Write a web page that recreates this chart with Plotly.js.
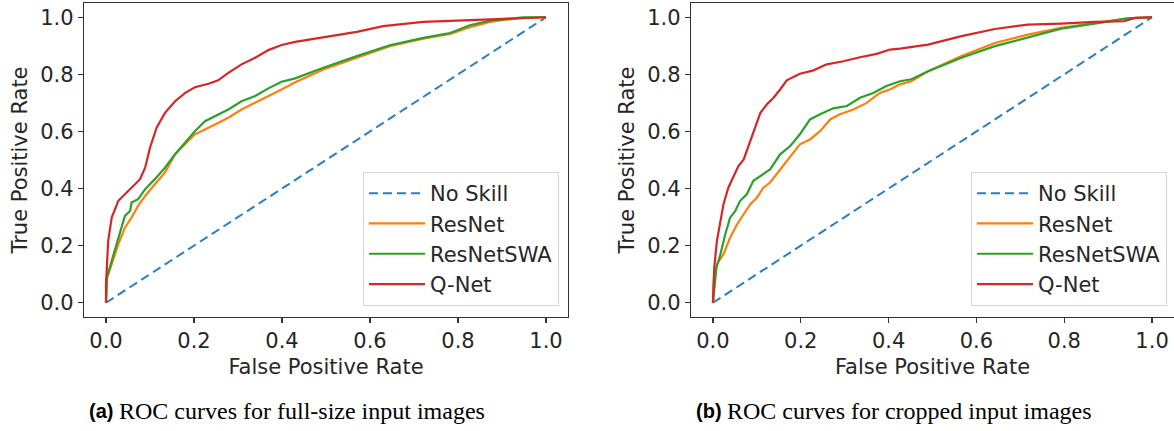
<!DOCTYPE html>
<html>
<head>
<meta charset="utf-8">
<script src="https://cdn.plot.ly/plotly-3.0.1.min.js"></script>
<style>html,body{margin:0;padding:0;background:#fff;}#chart{width:1174px;height:431px;}</style>
</head>
<body>
<div id="chart"></div>
<script>
// ---- Data ----
const noSkillX = [0, 1];
const noSkillY = [0, 1];

// (a) full-size input images
const fprA_ResNet = [0,0.002,0.013,0.028,0.043,0.058,0.073,0.089,0.111,0.134,0.157,0.18,0.202,0.225,0.248,0.278,0.308,0.339,0.369,0.399,0.43,0.494,0.57,0.645,0.721,0.782,0.827,0.873,0.933,1];
const tprA_ResNet = [0,0.085,0.135,0.205,0.263,0.298,0.339,0.374,0.415,0.456,0.52,0.555,0.59,0.607,0.625,0.648,0.677,0.7,0.724,0.747,0.772,0.817,0.858,0.899,0.925,0.942,0.965,0.984,0.996,1];
const fprA_SWA = [0,0.002,0.013,0.024,0.035,0.043,0.055,0.058,0.073,0.089,0.111,0.134,0.157,0.18,0.202,0.225,0.248,0.278,0.308,0.339,0.369,0.399,0.43,0.494,0.57,0.645,0.721,0.782,0.827,0.873,0.948,1];
const tprA_SWA = [0,0.089,0.147,0.205,0.263,0.304,0.322,0.351,0.363,0.398,0.433,0.473,0.52,0.561,0.601,0.636,0.654,0.677,0.706,0.724,0.751,0.774,0.786,0.823,0.864,0.902,0.928,0.945,0.972,0.988,1,1];
const fprA_QNet = [0,0,0.005,0.013,0.028,0.051,0.077,0.089,0.1,0.115,0.134,0.157,0.18,0.202,0.233,0.255,0.278,0.308,0.339,0.369,0.399,0.43,0.494,0.57,0.63,0.721,0.797,0.873,1];
const tprA_QNet = [0,0.066,0.217,0.298,0.357,0.392,0.432,0.473,0.543,0.613,0.665,0.706,0.735,0.755,0.767,0.779,0.805,0.835,0.858,0.885,0.903,0.914,0.93,0.949,0.969,0.984,0.988,0.992,1];

// (b) cropped input images
const fprB_ResNet = [0,0.002,0.009,0.024,0.039,0.055,0.07,0.085,0.1,0.115,0.13,0.153,0.176,0.198,0.221,0.244,0.267,0.289,0.32,0.35,0.38,0.403,0.426,0.452,0.49,0.566,0.642,0.717,0.793,0.869,0.945,1];
const tprB_ResNet = [0,0.085,0.135,0.17,0.228,0.275,0.31,0.345,0.368,0.403,0.421,0.467,0.514,0.555,0.572,0.601,0.642,0.66,0.677,0.7,0.735,0.747,0.765,0.776,0.811,0.864,0.91,0.939,0.963,0.98,0.996,1];
const fprB_SWA = [0,0.008,0.017,0.028,0.039,0.051,0.062,0.077,0.092,0.108,0.13,0.153,0.176,0.198,0.221,0.244,0.274,0.305,0.335,0.365,0.395,0.426,0.452,0.49,0.566,0.642,0.717,0.793,0.869,0.945,1];
const tprB_SWA = [0,0.123,0.17,0.24,0.298,0.322,0.357,0.38,0.427,0.444,0.467,0.52,0.549,0.59,0.642,0.66,0.681,0.689,0.718,0.735,0.759,0.776,0.783,0.811,0.858,0.899,0.928,0.96,0.978,0.996,1];
const fprB_QNet = [0,0.003,0.009,0.017,0.024,0.035,0.047,0.058,0.07,0.081,0.092,0.108,0.123,0.138,0.153,0.168,0.198,0.229,0.259,0.297,0.335,0.373,0.403,0.426,0.49,0.566,0.642,0.717,0.793,0.869,0.937,0.96,1];
const tprB_QNet = [0,0.123,0.217,0.287,0.345,0.403,0.444,0.479,0.502,0.549,0.601,0.665,0.695,0.718,0.747,0.779,0.802,0.814,0.835,0.846,0.86,0.872,0.887,0.89,0.904,0.934,0.959,0.974,0.978,0.984,0.986,0.998,1];

const tickVals = [0, 0.2, 0.4, 0.6, 0.8, 1.0];
const tickText = ['0.0', '0.2', '0.4', '0.6', '0.8', '1.0'];
const seriesNames = ['No Skill', 'ResNet', 'ResNetSWA', 'Q-Net'];
const captions = [['(a)', 'ROC curves for full-size input images'], ['(b)', 'ROC curves for cropped input images']];

// ---- Styling ----
const colors = {noSkill: '#2a7fc0', resnet: '#ff7f0e', swa: '#2ca02c', qnet: '#d62728'};
const W = 1174, H = 431;
const FONT = 'DejaVu Sans';
const txtColor = '#262626';

function mkTraces(xa, ya, leg, sets) {
  const out = [];
  out.push({x: noSkillX, y: noSkillY, xaxis: xa, yaxis: ya, legend: leg, mode: 'lines', name: seriesNames[0],
    line: {color: colors.noSkill, width: 2, dash: '9px,5px'}});
  out.push({x: sets[0][0], y: sets[0][1], xaxis: xa, yaxis: ya, legend: leg, mode: 'lines', name: seriesNames[1],
    line: {color: colors.resnet, width: 2.2}});
  out.push({x: sets[1][0], y: sets[1][1], xaxis: xa, yaxis: ya, legend: leg, mode: 'lines', name: seriesNames[2],
    line: {color: colors.swa, width: 2.2}});
  out.push({x: sets[2][0], y: sets[2][1], xaxis: xa, yaxis: ya, legend: leg, mode: 'lines', name: seriesNames[3],
    line: {color: colors.qnet, width: 2.2}});
  return out;
}

const traces = [].concat(
  mkTraces('x', 'y', 'legend', [[fprA_ResNet, tprA_ResNet], [fprA_SWA, tprA_SWA], [fprA_QNet, tprA_QNet]]),
  mkTraces('x2', 'y2', 'legend2', [[fprB_ResNet, tprB_ResNet], [fprB_SWA, tprB_SWA], [fprB_QNet, tprB_QNet]])
);

function xAxis(d0, d1, anchor) {
  return {domain: [d0 / W, d1 / W], anchor: anchor, range: [-0.05, 1.05], tickvals: tickVals, ticktext: tickText,
    showgrid: false, zeroline: false, showline: true, mirror: true, linecolor: '#333', linewidth: 1.2,
    ticks: 'outside', ticklen: 5, tickwidth: 1.2, tickcolor: '#333',
    tickfont: {family: FONT, size: 21, color: txtColor},
    title: {text: 'False Positive Rate', font: {family: FONT, size: 21, color: txtColor}, standoff: 6}};
}
function yAxis(anchor) {
  return {domain: [1 - 317 / H, 1 - 3 / H], anchor: anchor, range: [-0.05, 1.05], tickvals: tickVals, ticktext: tickText,
    showgrid: false, zeroline: false, showline: true, mirror: true, linecolor: '#333', linewidth: 1.2,
    ticks: 'outside', ticklen: 5, tickwidth: 1.2, tickcolor: '#333',
    tickfont: {family: FONT, size: 21, color: txtColor},
    title: {text: 'True Positive Rate', font: {family: FONT, size: 21, color: txtColor}, standoff: 6}};
}
function legendAt(xRight) {
  return {x: xRight / W, xanchor: 'right', y: 1 - 306 / H, yanchor: 'bottom', bgcolor: 'rgba(255,255,255,0.85)',
    bordercolor: '#d4d4d4', borderwidth: 1, font: {family: FONT, size: 21, color: txtColor}, itemwidth: 56,
    tracegroupgap: 0};
}

const capY = 1 - 411 / H;
const annotations = [
  {text: '<b>' + captions[0][0] + '</b>', x: 87 / W, y: capY, xref: 'paper', yref: 'paper', xanchor: 'left', yanchor: 'middle', showarrow: false,
    font: {family: 'Liberation Sans', size: 20, color: '#000'}},
  {text: captions[0][1], x: 117 / W, y: capY, xref: 'paper', yref: 'paper', xanchor: 'left', yanchor: 'middle', showarrow: false,
    font: {family: 'Liberation Serif', size: 24, color: '#000'}},
  {text: '<b>' + captions[1][0] + '</b>', x: 694 / W, y: capY, xref: 'paper', yref: 'paper', xanchor: 'left', yanchor: 'middle', showarrow: false,
    font: {family: 'Liberation Sans', size: 20, color: '#000'}},
  {text: captions[1][1], x: 725 / W, y: capY, xref: 'paper', yref: 'paper', xanchor: 'left', yanchor: 'middle', showarrow: false,
    font: {family: 'Liberation Serif', size: 24, color: '#000'}}
];

const layout = {
  width: W, height: H, margin: {l: 0, r: 0, t: 0, b: 0}, paper_bgcolor: '#fff', plot_bgcolor: '#fff',
  showlegend: true,
  xaxis: xAxis(84, 568, 'y'), yaxis: yAxis('x'),
  xaxis2: xAxis(691, 1174, 'y2'), yaxis2: yAxis('x2'),
  legend: legendAt(559), legend2: legendAt(1167),
  annotations: annotations
};

Plotly.newPlot('chart', traces, layout, {displayModeBar: false, staticPlot: true});
</script>
</body>
</html>
